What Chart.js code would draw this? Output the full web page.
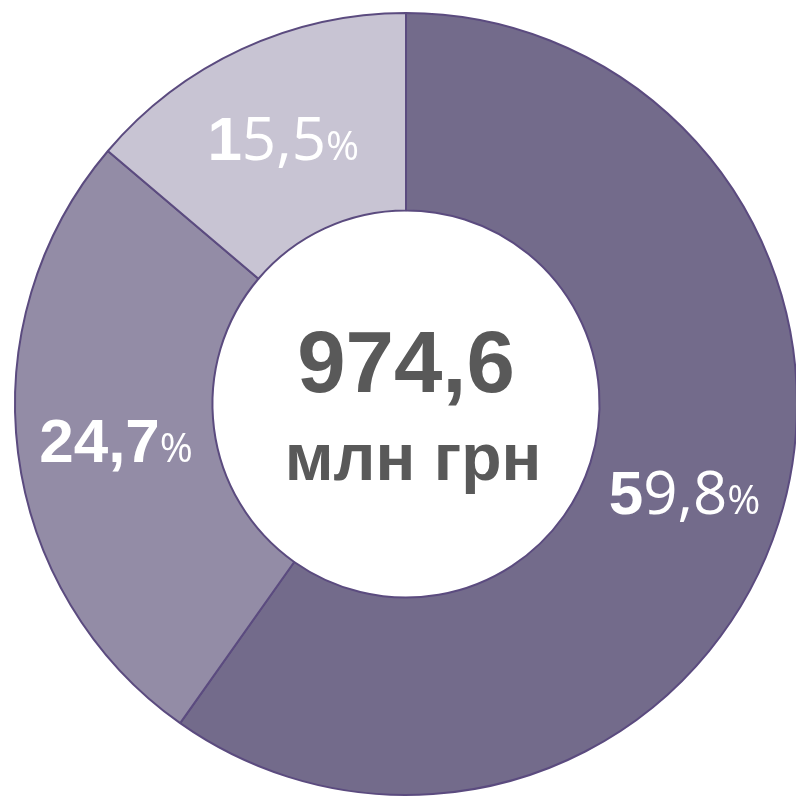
<!DOCTYPE html>
<html>
<head>
<meta charset="utf-8">
<script src="https://cdn.jsdelivr.net/npm/chart.js@4"></script>
<style>
  html, body { margin: 0; padding: 0; background: #fff; overflow: hidden; }
  #wrap { position: absolute; left: 0; top: 0; width: 812px; height: 808px; }
</style>
</head>
<body>
<div id="wrap"><canvas id="shareChart"></canvas></div>
<script>
// slice sizes as drawn in the picture, and the printed labels
const sliceSizes = [59.8, 26.4, 13.8];
const sliceLabels = ["59,8", "24,7", "15,5"];
const boldChars = [1, 4, 1];
const sliceColors = ["#736b8b", "#938ca6", "#c8c4d3"];
const totalValue = "974,6";
const totalUnit = "млн грн";

// labels: a bold lead, the rest regular, a smaller %
const labelPlugin = {
  id: "sliceLabels",
  afterDatasetsDraw(chart) {
    const ctx = chart.ctx;
    const arcs = chart.getDatasetMeta(0).data;
    ctx.save();
    ctx.fillStyle = "#ffffff";
    ctx.textBaseline = "alphabetic";
    arcs.forEach((arc, i) => {
      const p = arc.tooltipPosition();
      const txt = sliceLabels[i];
      const parts = [
        { t: txt.slice(0, boldChars[i]), f: "bold 62px 'Liberation Sans', Arial" },
        { t: txt.slice(boldChars[i]), f: "60px 'Open Sans'" },
        { t: "%", f: "40px 'Open Sans'" }
      ];
      let w = 0;
      parts.forEach(pt => { ctx.font = pt.f; pt.w = ctx.measureText(pt.t).width; w += pt.w; });
      let x = p.x - w / 2;
      const y = p.y + 21;
      parts.forEach(pt => { ctx.font = pt.f; ctx.fillText(pt.t, x, y); x += pt.w; });
    });

    const c = arcs[0];
    ctx.fillStyle = "#595959";
    ctx.textAlign = "center";
    ctx.font = "bold 87px 'Liberation Sans', Arial";
    ctx.fillText(totalValue, c.x, c.y - 12);
    ctx.font = "bold 66px 'Liberation Sans', Arial";
    ctx.fillText(totalUnit, c.x + 7, c.y + 76);
    ctx.restore();
  }
};

new Chart("shareChart", {
  type: "doughnut",
  data: {
    labels: sliceLabels,
    datasets: [{
      data: sliceSizes,
      backgroundColor: sliceColors,
      borderColor: "#5b4b7f",
      borderWidth: 2
    }]
  },
  options: {
    responsive: true,
    maintainAspectRatio: false,
    animation: false,
    cutout: "49.5%",
    layout: { padding: 12 },
    plugins: {
      legend: { display: false },
      tooltip: { enabled: false }
    }
  },
  plugins: [labelPlugin]
});
</script>
</body>
</html>
